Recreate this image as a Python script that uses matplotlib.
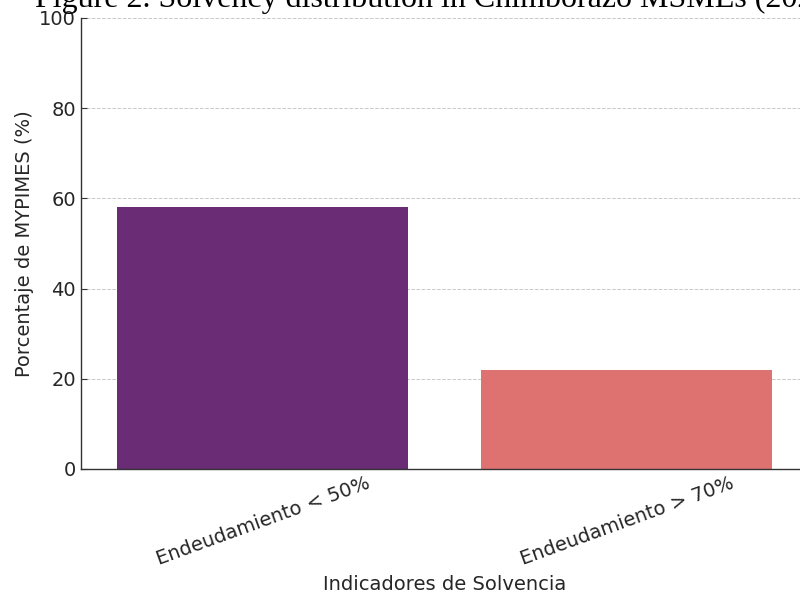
import matplotlib.pyplot as plt
import seaborn as sns
import pandas as pd

categories = ["Endeudamiento < 50%", "Endeudamiento > 70%"]
porcentajes = [58, 22]
titulo = "Figure 2. Solvency distribution in Chimborazo MSMEs (2023)"

df = pd.DataFrame({"Indicador": categories, "Porcentaje": porcentajes})

fig = plt.figure(figsize=(8, 5.95), dpi=100)
# axes run slightly past the right edge of the canvas
ax = fig.add_axes([0.101, 0.2118, 0.91, 0.758])

sns.barplot(data=df, x="Indicador", y="Porcentaje", hue="Indicador",
            palette="magma", legend=False, ax=ax)

ax.set_ylim(0, 100)
ax.set_yticks([0, 20, 40, 60, 80, 100])
ax.grid(axis="y", linestyle="--", color="#bbbbbb", linewidth=0.7, alpha=0.8)
ax.set_axisbelow(True)

for side in ["top", "right"]:
    ax.spines[side].set_visible(False)
for side in ["left", "bottom"]:
    ax.spines[side].set_color("#333333")
    ax.spines[side].set_linewidth(1.0)

ax.tick_params(axis="both", direction="in", length=4, color="#333333",
               labelsize=14, labelcolor="#262626")
ax.tick_params(axis="x", rotation=20)
for lbl in ax.get_xticklabels():
    lbl.set_ha("center")

ax.set_xlabel("Indicadores de Solvencia", fontsize=14, color="#262626")
ax.set_ylabel("Porcentaje de MYPIMES (%)", fontsize=14, color="#262626")

fig.text(0.044, 0.988, titulo, family="Liberation Serif", fontsize=23,
         ha="left", va="baseline", color="black")

fig.savefig("out.png", dpi=100)
